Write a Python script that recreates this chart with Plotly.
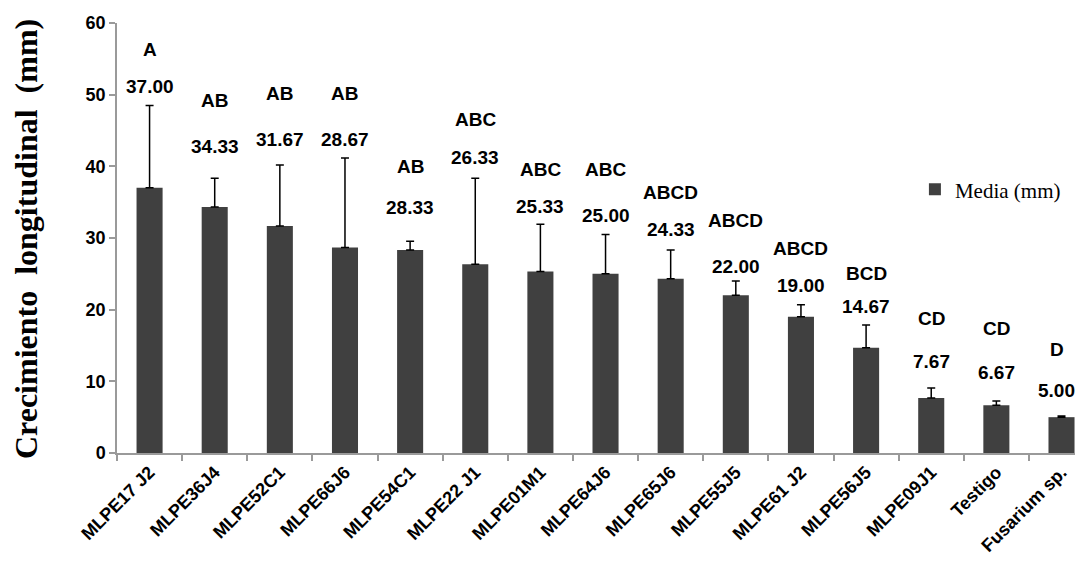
import plotly.graph_objects as go

categories = ["MLPE17 J2", "MLPE36J4", "MLPE52C1", "MLPE66J6", "MLPE54C1", "MLPE22 J1",
              "MLPE01M1", "MLPE64J6", "MLPE65J6", "MLPE55J5", "MLPE61 J2", "MLPE56J5",
              "MLPE09J1", "Testigo", "Fusarium sp."]
means = [37.00, 34.33, 31.67, 28.67, 28.33, 26.33, 25.33, 25.00, 24.33, 22.00, 19.00, 14.67, 7.67, 6.67, 5.00]
errors = [11.5, 4.0, 8.5, 12.5, 1.2, 12.0, 6.6, 5.5, 4.0, 2.0, 1.7, 3.2, 1.4, 0.6, 0.15]
groups = ["A", "AB", "AB", "AB", "AB", "ABC", "ABC", "ABC", "ABCD", "ABCD", "ABCD", "BCD", "CD", "CD", "D"]

# label anchor heights (data units)
value_label_y = [51.2, 42.7, 43.8, 43.8, 34.2, 41.3, 34.4, 33.2, 31.2, 26.0, 23.4, 20.4, 12.7, 11.2, 8.7]
group_label_y = [56.3, 49.2, 50.1, 50.1, 40.0, 46.6, 39.6, 39.5, 36.3, 32.5, 28.5, 25.0, 18.8, 17.4, 14.5]

BAR = "#404040"
AXIS = "#9a9a9a"
SANS = "Liberation Sans, Arial, sans-serif"
SERIF = "Liberation Serif, Times New Roman, serif"

fig = go.Figure()
fig.add_trace(go.Bar(
    x=categories, y=means, name="Media (mm)",
    marker=dict(color=BAR, line=dict(width=0)),
    width=0.4,
    error_y=dict(type="data", symmetric=False, array=errors, arrayminus=[0] * len(errors),
                 color="black", thickness=1.5, width=4),
))

annotations = []
n = len(categories)
for i, (c, v, g, vy, gy) in enumerate(zip(categories, means, groups, value_label_y, group_label_y)):
    xs = -5 if i == n - 1 else 0
    annotations.append(dict(x=c, y=vy, xref="x", yref="y", text=f"{v:.2f}", showarrow=False, xshift=xs,
                            font=dict(family=SANS, size=19, color="black", weight="bold")))
    annotations.append(dict(x=c, y=gy, xref="x", yref="y", text=g, showarrow=False, xshift=xs,
                            font=dict(family=SANS, size=19, color="black", weight="bold")))
annotations.append(dict(x=-0.094, y=0.498, xref="paper", yref="paper", text="Crecimiento  longitudinal  (mm)",
                        textangle=-90, showarrow=False, xanchor="center", yanchor="middle",
                        font=dict(family=SERIF, size=32, color="black", weight="bold")))

fig.update_layout(
    width=1075, height=553,
    margin=dict(l=109, r=0, t=15, b=108),
    plot_bgcolor="white", paper_bgcolor="white",
    annotations=annotations,
    showlegend=True,
    legend=dict(x=0.826, y=0.66, xanchor="left", yanchor="top", bgcolor="rgba(0,0,0,0)",
                font=dict(family=SERIF, size=21, color="black"), itemwidth=30),
)
fig.update_xaxes(
    range=[-0.5, 14.33], showline=True, linecolor=AXIS, linewidth=1.5, automargin=False,
    ticks="outside", tickson="boundaries", ticklen=6, tickcolor=AXIS, tickwidth=1.5,
    tickangle=-45, showgrid=False,
    tickfont=dict(family=SANS, size=18, color="black", weight="bold"),
)
fig.update_yaxes(
    range=[0, 60], dtick=10, showline=True, linecolor=AXIS, linewidth=1.5, automargin=False,
    ticks="outside", ticklen=6, tickcolor=AXIS, tickwidth=1.5, showgrid=False, zeroline=False,
    tickfont=dict(family=SANS, size=18, color="black", weight="bold"),
)

fig.write_html("out.html")
